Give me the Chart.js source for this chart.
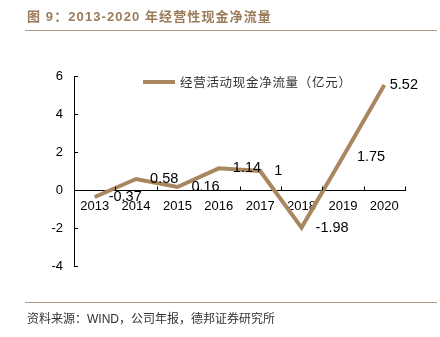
<!DOCTYPE html>
<html>
<head>
<meta charset="utf-8">
<script src="https://cdn.jsdelivr.net/npm/chart.js@4"></script>
<style>
  body { margin: 0; background: #fff; }
  #wrap { position: relative; width: 440px; height: 337px; overflow: hidden; }
  #chart { position: absolute; left: 0; top: 0; }
  .title {
    position: absolute; left: 27px; top: 6px;
    font: bold 13px "Liberation Sans", "Noto Sans CJK SC", sans-serif;
    letter-spacing: 1.1px; color: #9c7b5a; white-space: nowrap;
  }
  .rule { position: absolute; left: 25px; width: 412px; height: 0; border-top: 1.5px solid #b39b80; }
  .source {
    position: absolute; left: 27px; top: 309px;
    font: 12px "Liberation Sans", "Noto Sans CJK SC", sans-serif;
    color: #333; white-space: nowrap;
  }
</style>
</head>
<body>
<div id="wrap">
  <canvas id="chart" width="440" height="337"></canvas>
  <div class="title">图 9：2013-2020 年经营性现金净流量</div>
  <div class="rule" style="top:30px"></div>
  <div class="rule" style="top:302px"></div>
  <div class="source">资料来源：WIND，公司年报，德邦证券研究所</div>
</div>
<script>
// chart data
const years = ["2013", "2014", "2015", "2016", "2017", "2018", "2019", "2020"];
const cashFlow = [-0.37, 0.58, 0.16, 1.14, 1, -1.98, 1.75, 5.52];
const seriesName = "经营活动现金净流量（亿元）";
const lineColor = "#a8875f";

// ticks pointing inward, like the original
const innerTicks = {
    id: "innerTicks",
    afterDraw(chart) {
        const { ctx, scales: { x, y } } = chart;
        ctx.save();
        ctx.strokeStyle = "#000";
        ctx.lineWidth = 1;
        ctx.beginPath();
        y.ticks.forEach(t => {
            const py = Math.round(y.getPixelForValue(t.value)) + 0.5;
            ctx.moveTo(x.left, py);
            ctx.lineTo(x.left + 4, py);
        });
        const y0 = Math.round(y.getPixelForValue(0)) + 0.5;
        for (let i = 0; i <= years.length; i++) {
            const px = Math.round(x.getPixelForValue(i - 0.5)) + 0.5;
            ctx.moveTo(px, y0);
            ctx.lineTo(px, y0 - 4);
        }
        ctx.stroke();
        ctx.restore();
    }
};

// value labels to the right of each point
const valueLabels = {
    id: "valueLabels",
    afterDatasetsDraw(chart) {
        const { ctx } = chart;
        const meta = chart.getDatasetMeta(0);
        ctx.save();
        ctx.font = "14.5px 'Liberation Sans', Arial, sans-serif";
        ctx.fillStyle = "#000";
        ctx.textBaseline = "middle";
        ctx.textAlign = "left";
        meta.data.forEach((pt, i) => {
            const txt = String(cashFlow[i]);
            const w = ctx.measureText(txt).width;
            const lx = Math.min(pt.x + 14, 418 - w);
            ctx.fillText(txt, lx, pt.y);
        });
        ctx.restore();
    }
};

// legend drawn inside the plot
const legendInside = {
    id: "legendInside",
    afterDraw(chart) {
        const { ctx } = chart;
        ctx.save();
        ctx.strokeStyle = lineColor;
        ctx.lineWidth = 4;
        ctx.beginPath();
        ctx.moveTo(143, 82);
        ctx.lineTo(175, 82);
        ctx.stroke();
        ctx.font = "12.5px 'Noto Sans CJK SC', sans-serif";
        ctx.letterSpacing = "0.7px";
        ctx.fillStyle = "#333";
        ctx.textBaseline = "middle";
        ctx.fillText(seriesName, 180, 82);
        ctx.restore();
    }
};

new Chart(document.getElementById("chart"), {
    type: "line",
    data: {
        labels: years,
        datasets: [{
            label: seriesName,
            data: cashFlow,
            borderColor: lineColor,
            borderWidth: 4,
            pointRadius: 0,
            tension: 0,
            fill: false
        }]
    },
    options: {
        responsive: false,
        animation: false,
        layout: { padding: { top: 76, bottom: 71, left: 0, right: 35 } },
        plugins: { legend: { display: false }, tooltip: { enabled: false } },
        scales: {
            x: {
                position: { y: 0 },
                offset: true,
                grid: { display: false, drawTicks: false },
                border: { display: true, color: "#000", width: 1 },
                ticks: {
                    padding: 9,
                    color: "#000",
                    font: { family: "'Liberation Sans', Arial, sans-serif", size: 13 },
                    maxRotation: 0
                }
            },
            y: {
                min: -4,
                max: 6,
                grid: { display: false, drawTicks: false },
                border: { display: true, color: "#000", width: 1 },
                ticks: {
                    stepSize: 2,
                    padding: 11,
                    color: "#000",
                    font: { family: "'Liberation Sans', Arial, sans-serif", size: 13 }
                },
                afterFit(scale) { scale.width = 74; }
            }
        }
    },
    plugins: [innerTicks, valueLabels, legendInside]
});
</script>
</body>
</html>
